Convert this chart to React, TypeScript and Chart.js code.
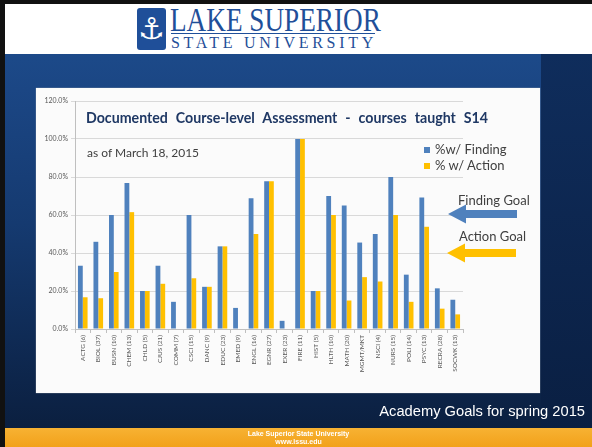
import React, { useEffect, useRef } from "react";
import { Chart, registerables } from "chart.js";

Chart.register(...registerables);

const categories = [
  "ACTG (6)", "BIOL (37)", "BUSN (10)", "CHEM (13)", "CHLD (5)", "CJUS (21)", "COMM (7)",
  "CSCI (15)", "DANC (9)", "EDUC (23)", "EMED (9)", "ENGL (16)", "EGNR (27)", "EXER (23)",
  "FIRE (11)", "HIST (5)", "HLTH (10)", "MATH (20)", "MGMT/MKT", "NSCI (4)", "NURS (15)",
  "POLI (14)", "PSYC (13)", "RECRA (28)", "SOCWK (13)",
];
const findingPct = [
  33.3, 45.9, 60, 76.9, 20, 33.3, 14.3, 60, 22.2, 43.5, 11.1, 68.8, 77.8, 4.3,
  100, 20, 70, 65, 45.5, 50, 80, 28.6, 69.2, 21.4, 15.4,
];
const actionPct = [
  16.7, 16.2, 30, 61.5, 20, 23.8, 0, 26.7, 22.2, 43.5, 0, 50, 77.8, 0,
  100, 20, 60, 15, 27.3, 25, 60, 14.3, 53.8, 10.7, 7.7,
];
const yTicks = [0, 20, 40, 60, 80, 100, 120];
const seriesNames = ["%w/ Finding", "% w/ Action"];

const BLUE = "#4F81BD";
const GOLD = "#FFC000";

function BarChart() {
  const ref = useRef<HTMLCanvasElement | null>(null);
  useEffect(() => {
    if (!ref.current) return;
    const chart = new Chart(ref.current, {
      type: "bar",
      data: {
        labels: categories,
        datasets: [
          { label: seriesNames[0], data: findingPct, backgroundColor: BLUE, barPercentage: 1, categoryPercentage: 0.62 },
          { label: seriesNames[1], data: actionPct, backgroundColor: GOLD, barPercentage: 1, categoryPercentage: 0.62 },
        ],
      },
      options: {
        responsive: false,
        animation: false,
        layout: { padding: { top: 13, right: 77, left: 0, bottom: 0 } },
        plugins: { legend: { display: false }, tooltip: { enabled: false }, title: { display: false } },
        scales: {
          x: {
            grid: { display: true, drawOnChartArea: false, offset: true, tickLength: 4, color: "#bfbfbf" },
            border: { color: "#bfbfbf" },
            ticks: {
              font: { size: 6.5, family: "Lato" },
              color: "#595959",
              maxRotation: 90,
              minRotation: 90,
              autoSkip: false,
              padding: 2,
            },
            afterFit: (s: any) => { s.height = 64; },
          },
          y: {
            min: yTicks[0],
            max: yTicks[yTicks.length - 1],
            ticks: {
              stepSize: yTicks[1] - yTicks[0],
              callback: (v: any) => Number(v).toFixed(1) + "%",
              font: { size: 7, family: "Lato" },
              color: "#595959",
              padding: 3,
            },
            grid: { color: "#d9d9d9", tickLength: 4 },
            border: { color: "#bfbfbf" },
            afterFit: (s: any) => { s.width = 39; },
          },
        },
      },
    });
    return () => chart.destroy();
  }, []);
  return <canvas ref={ref} width={504} height={305} style={{ display: "block" }} />;
}

function Arrow({ x, y, color }: { x: number; y: number; color: string }) {
  const pts = `${x},${y} ${x + 18},${y - 9.5} ${x + 18},${y - 4} ${x + 69},${y - 4} ${x + 69},${y + 4} ${x + 18},${y + 4} ${x + 18},${y + 9.5}`;
  return (
    <svg style={{ position: "absolute", left: 0, top: 0 }} width={592} height={447}>
      <polygon points={pts} fill={color} />
    </svg>
  );
}

export default function App() {
  const abs = (s: React.CSSProperties): React.CSSProperties => ({ position: "absolute", ...s });
  return (
    <div
      style={{
        position: "fixed", left: 0, top: 0, width: 592, height: 447, overflow: "hidden",
        background: "linear-gradient(180deg, #1e4f90 0%, #1b4684 20%, #153a70 50%, #0e2850 80%, #0a1d3b 100%)",
        fontFamily: "Lato, 'Open Sans', sans-serif",
      }}
    >
      {/* side shading */}
      <div style={abs({ left: 541, top: 54, width: 51, height: 375, background: "linear-gradient(180deg,#0f2d5c,#0a1f42)" })} />
      {/* header */}
      <div style={abs({ left: 0, top: 0, width: 592, height: 54, background: "#ffffff" })} />
      <div style={abs({ left: 0, top: 0, width: 592, height: 4, background: "#111" })} />
      <div style={abs({ left: 0, top: 0, width: 5, height: 447, background: "#111" })} />
      {/* logo */}
      <div style={abs({ left: 137, top: 8, width: 29, height: 42, background: "#1f4f99", borderRadius: 3, color: "#fff",
        fontSize: 30, lineHeight: "42px", textAlign: "center", fontFamily: "DejaVu Sans" })}>⚓</div>
      <div style={abs({ left: 170, top: 3, fontFamily: "'Liberation Serif', 'DejaVu Serif', serif", fontSize: 34, lineHeight: "34px",
        color: "#1f4f99", whiteSpace: "nowrap", transform: "scaleX(0.8)", transformOrigin: "0 0" })}>LAKE SUPERIOR</div>
      <div style={abs({ left: 171, top: 33, width: 204, height: 1, background: "#1f4f99" })} />
      <div style={abs({ left: 171, top: 35, fontFamily: "'Liberation Serif', 'DejaVu Serif', serif", fontSize: 16, lineHeight: "16px",
        color: "#1f4f99", letterSpacing: 3.7, whiteSpace: "nowrap" })}>STATE UNIVERSITY</div>

      {/* chart panel */}
      <div style={abs({ left: 36, top: 88, width: 504, height: 305, background: "#fbfbfb", boxShadow: "0 0 1px #bbb" })}>
        <BarChart />
      </div>
      <div style={abs({ left: 86, top: 109, fontSize: 14.2, fontWeight: 700, color: "#1f3864", whiteSpace: "nowrap", wordSpacing: 4.5 })}>
        Documented Course-level Assessment - courses taught S14
      </div>
      <div style={abs({ left: 87, top: 145, fontSize: 12, color: "#404040", whiteSpace: "nowrap" })}>as of March 18, 2015</div>

      {/* legend */}
      <div style={abs({ left: 424, top: 147, width: 6, height: 6, background: BLUE })} />
      <div style={abs({ left: 435, top: 141, fontSize: 13, color: "#404040", whiteSpace: "nowrap" })}>{seriesNames[0]}</div>
      <div style={abs({ left: 424, top: 163, width: 6, height: 6, background: GOLD })} />
      <div style={abs({ left: 435, top: 157, fontSize: 13, color: "#404040", whiteSpace: "nowrap" })}>{seriesNames[1]}</div>

      {/* goals */}
      <div style={abs({ left: 458, top: 192, fontSize: 13, color: "#404040", whiteSpace: "nowrap" })}>Finding Goal</div>
      <Arrow x={448} y={214} color={BLUE} />
      <div style={abs({ left: 459, top: 228, fontSize: 13, color: "#404040", whiteSpace: "nowrap" })}>Action Goal</div>
      <Arrow x={447} y={253} color={GOLD} />

      {/* bottom caption */}
      <div style={abs({ right: 7, top: 403, fontFamily: "'Liberation Sans', Arial, sans-serif", fontSize: 14.7, color: "#ffffff", whiteSpace: "nowrap" })}>
        Academy Goals for spring 2015
      </div>
      {/* footer */}
      <div style={abs({ left: 5, top: 428, width: 587, height: 19, background: "linear-gradient(180deg,#f7b233,#f2a11a)" })} />
      <div style={abs({ left: 5, top: 430, width: 587, textAlign: "center", fontFamily: "'Liberation Sans', Arial, sans-serif",
        fontSize: 7, fontWeight: 700, lineHeight: "8px", color: "#fff" })}>
        Lake Superior State University<br />www.lssu.edu
      </div>
    </div>
  );
}
